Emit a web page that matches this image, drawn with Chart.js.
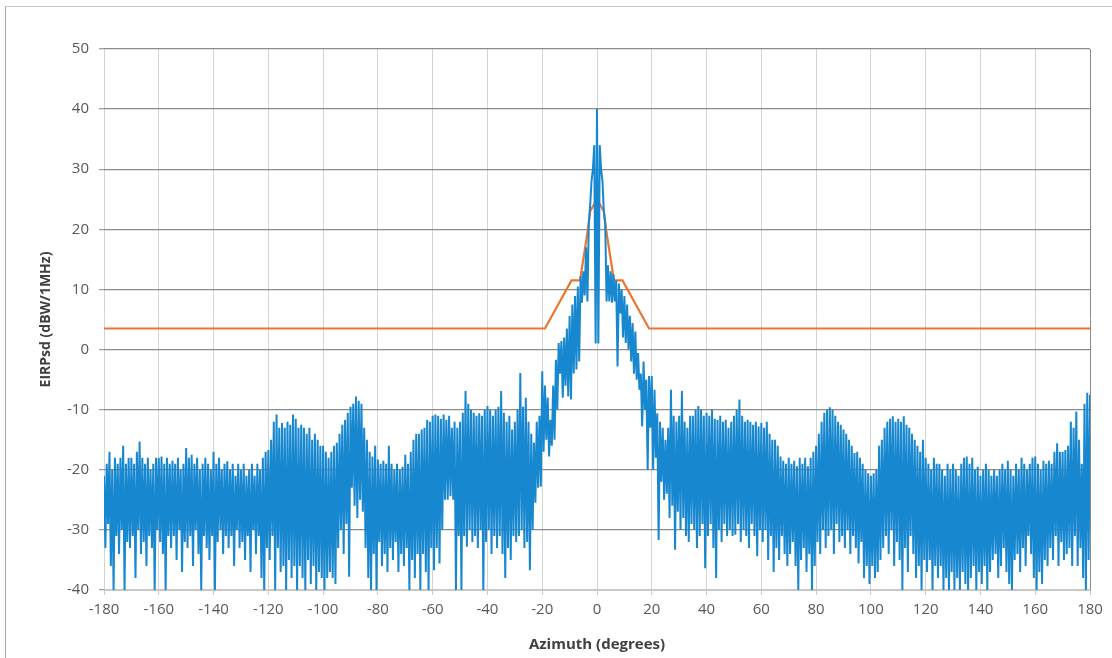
<!DOCTYPE html>
<html>
<head>
<meta charset="utf-8">
<title>EIRPsd vs Azimuth</title>
<script src="https://cdn.jsdelivr.net/npm/chart.js@4.4.1/dist/chart.umd.min.js"></script>
<style>
  html, body { margin: 0; padding: 0; background: #fff; overflow: hidden; }
  #wrap { position: relative; width: 1112px; height: 658px; }
  #frame { position: absolute; left: 5px; top: 6px; width: 1200px; height: 800px;
           border-top: 1px solid #c8c8c8; border-left: 1px solid #a8a8a8; pointer-events: none; }
  canvas { position: absolute; left: 0; top: 0; }
</style>
</head>
<body>
<div id="wrap">
  <div id="frame"></div>
  <canvas id="mycanvas" width="1112" height="658"></canvas>
</div>
<script>
// measured EIRPsd, one value every 0.5 deg from -180 to +180
var eirpMeasured = [
  -21,-33,-19,-29,-17,-36,-20,-40,-18,-31,      // -180
  -19,-34,-18,-30,-16,-40,-19,-32,-18,-33,      // -175
  -18,-31,-19,-38,-17,-30,-15.3,-34,-18,-32,    // -170
  -19,-36,-18,-31,-20,-33,-19,-40,-18,-30,      // -165
  -18,-32,-17.8,-34,-19,-40,-18,-31,-19,-33,    // -160
  -18.5,-31,-19,-35,-18,-30,-20,-37,-19,-32,    // -155
  -16.4,-33,-18,-31,-17.5,-36,-19,-30,-18,-34,  // -150
  -20,-40,-19,-31,-18,-33,-19,-35,-20,-31,      // -145
  -17,-40,-19,-32,-18,-30,-20,-34,-19,-31,      // -140
  -18.6,-33,-20,-31,-19,-36,-21,-30,-19,-33,    // -135
  -20,-32,-19,-35,-21,-31,-20,-37,-19,-30,      // -130
  -21,-34,-19,-31,-20,-38,-18,-40,-17,-33,      // -125
  -16.7,-35,-15,-31,-12,-40,-10.8,-33,-13,-37,  // -120
  -12.2,-36,-13,-40,-12,-35,-12.5,-38,-10.8,-36,// -115
  -11.5,-40,-13,-36,-12.5,-38,-13,-40,-14,-35,  // -110
  -13,-39,-15,-36,-14,-40,-15,-37,-16,-38,      // -105
  -16,-40,-17,-38,-18,-37,-17,-38,-16,-39,      // -100
  -15.5,-33,-14,-30,-12.5,-34,-11.7,-29,-10.5,-37.8, // -95
  -9.5,-23,-9,-26,-7.8,-28,-8.5,-25,-9,-27,     // -90
  -13,-33,-15,-38,-17,-40,-17.8,-34,-16,-40,    // -85
  -18.3,-32,-19,-36,-18.5,-34,-19,-37,-16,-33,  // -80
  -19,-35,-20,-32,-19,-37,-20,-34,-19.5,-36,    // -75
  -17.5,-33,-19,-40,-17,-35,-15,-38,-14,-34,    // -70
  -14,-40,-13.3,-34,-13,-37,-11.7,-40,-12,-33,  // -65
  -11,-36.7,-10.8,-33,-11,-35.6,-11.5,-30,-10.8,-25, // -60
  -11.7,-25,-11,-24.4,-13,-25,-12,-40,-13,-31,  // -55
  -12,-40,-10.5,-31,-6.9,-32.8,-9,-30,-10,-32,  // -50
  -10.5,-31,-11,-33,-10.6,-30,-11,-40,-10,-32,  // -45
  -9.4,-30,-10,-34,-11,-31,-10,-33,-9.5,-31,    // -40
  -6.9,-34,-10.5,-38,-12,-33,-11,-35,-13.3,-31, // -35
  -12,-32,-10,-31,-3.9,-30,-9.5,-33,-8,-32,     // -30
  -12,-36.7,-14,-30,-15.5,-25.5,-12,-23,-11,-22.8, // -25
  -3.6,-17,-6,-15,-8,-17.8,-11.7,-16,-6,-15,    // -20
  -1.7,-10,1.1,-4,1.4,-8,2,-6,3.5,-7.8,         // -15
  5.6,-8.3,7.5,-4,8.9,-3.3,10.5,-2,12.2,7.8,    // -10
  13,9,17,8,21,24,28,30,34,1,                   // -5
  40,1,34,30,28,23,21,8,14,8,                   // 0
  13,7.8,12.5,8,11.5,-2.8,11,6,10,2,            // 5
  8.9,1.1,7.5,0,5.6,-2,4.4,-4,3,-5,             // 10
  -0.6,-6.7,-4,-12.8,-2,-10,-5,-20,-4.4,-13,    // 15
  -4.4,-20,-6.7,-18,-10.6,-31.7,-12,-22,-13,-25,// 20
  -15,-24,-13,-28,-6.7,-26,-11,-33.3,-12,-27,   // 25
  -11,-30,-6.9,-28,-12,-31,-13,-32,-11,-29,     // 30
  -11,-30,-10,-33,-9.4,-31,-10,-29,-11,-36.4,   // 35
  -10.5,-31,-11,-29,-10,-33,-11.5,-38,-11.7,-30,// 40
  -11,-32,-12,-29,-11.7,-31,-13,-30,-12,-31,    // 45
  -11,-30.8,-10,-29,-8.3,-32,-11,-30,-12,-31,   // 50
  -11.7,-33,-12,-29,-12.5,-31,-12,-34.4,-12.8,-30, // 55
  -12.2,-32,-13,-30,-12,-35,-14,-31,-15,-37,    // 60
  -15,-33,-16,-35,-17.8,-31,-18.5,-34,-19,-36,  // 65
  -18,-34,-19,-32,-18.5,-36,-19.4,-40,-18,-35,  // 70
  -19,-33,-18,-37,-19.4,-34,-18,-40,-17,-36,    // 75
  -16,-32,-14,-34,-12,-30,-10.5,-33,-10,-31,    // 80
  -9.6,-30,-10,-34,-11,-29,-12,-32,-12.5,-31,   // 85
  -13.3,-33,-14,-30,-15,-34,-16,-31,-17.2,-33,  // 90
  -17,-35.6,-18,-32,-19,-38,-20,-36,-20.6,-39,  // 95
  -21,-36,-20.6,-38,-20,-37,-16,-35,-15,-33,    // 100
  -13,-31,-12,-34,-11.5,-30,-11.1,-36,-12,-32,  // 105
  -11.5,-35,-12,-40,-11.1,-33,-12.5,-37,-13,-31,// 110
  -14,-34,-15,-38,-16,-36,-17,-40,-15,-35,      // 115
  -18,-37,-19,-35,-20,-40,-18,-36,-19,-38,      // 120
  -19,-36,-20,-40,-21,-38,-19,-40,-20,-37,      // 125
  -19,-40,-20,-38,-21,-40,-19,-37,-18,-39,      // 130
  -17.8,-40,-19,-38,-18,-36,-20,-40,-19.5,-37,  // 135
  -21,-39,-20,-36,-19,-40,-20,-37,-21,-35,      // 140
  -20,-34,-21,-38,-20,-36,-19,-33,-20,-37,      // 145
  -18.5,-39,-20,-40,-21,-35,-19,-34,-20,-37,    // 150
  -18,-33,-19,-36,-20,-31,-19,-34,-18,-38,      // 155
  -17.8,-40,-19,-37,-20,-39,-18.5,-35,-19,-36,  // 160
  -18.5,-33,-19,-35,-17,-31,-15.6,-36,-17,-32,  // 165
  -17,-35,-16.7,-34,-16,-33,-12,-36,-13,-31,    // 170
  -10.3,-36,-15,-33,-19,-38,-9,-40,-7.2,-35,    // 175
  -7.5                                          // 180
];

// azimuth sample grid for the measured trace (0.5 deg steps)
var azStart = -180;
var azStep = 0.5;

// mask line (orange)
var maskAz    = [-180, -19, -9.3, -6.2, -3.3, -2.5,  0, 2.5, 3.3,  6.2,  9.3,  19, 180];
var maskLevel = [ 3.5, 3.5, 11.5, 11.5,   20,   23, 25,  23,  20, 11.5, 11.5, 3.5, 3.5];

var xMin = -180, xMax = 180, xStep = 20;
var yMin = -40, yMax = 50, yStep = 10;

var measuredPts = [];
for (var i = 0; i < eirpMeasured.length; i++) {
	measuredPts.push({ x: azStart + i * azStep, y: eirpMeasured[i] });
}
var maskPts = [];
for (var j = 0; j < maskAz.length; j++) {
	maskPts.push({ x: maskAz[j], y: maskLevel[j] });
}

var tickFont = { family: "'Open Sans', 'Liberation Sans', sans-serif", size: 15 };
var titleFont = { family: "'Open Sans', 'Liberation Sans', sans-serif", size: 14, weight: 'bold' };

var ctx = document.getElementById('mycanvas');

var chart = new Chart(ctx, {
	type: 'line',
	data: {
		datasets: [
			{
				label: 'measured',
				data: measuredPts,
				borderColor: '#1787cf',
				borderWidth: 2,
				pointRadius: 0,
				tension: 0,
				order: 0
			},
			{
				label: 'mask',
				data: maskPts,
				borderColor: '#ec7530',
				borderWidth: 2.2,
				pointRadius: 0,
				tension: 0,
				order: 1
			}
		]
	},
	options: {
		responsive: false,
		animation: false,
		events: [],
		layout: { padding: { top: 49, right: 22, bottom: 0, left: 0 } },
		plugins: {
			legend: { display: false },
			tooltip: { enabled: false }
		},
		scales: {
			x: {
				type: 'linear',
				min: xMin,
				max: xMax,
				afterFit: function(scale) { scale.height = 68; },
				ticks: {
					stepSize: xStep,
					color: '#595959',
					font: tickFont,
					padding: 6,
					maxRotation: 0
				},
				grid: {
					color: function(c) { return c.tick && c.tick.value === 180 ? '#8a8a8a' : '#d4d4d4'; },
					lineWidth: 1,
					tickLength: 5,
					tickColor: '#c8c8c8'
				},
				border: { color: '#c8c8c8' },
				title: {
					display: true,
					text: 'Azimuth (degrees)',
					color: '#404040',
					font: { family: "'Open Sans', 'Liberation Sans', sans-serif", size: 15, weight: 'bold' },
					padding: { top: 0, bottom: 4 }
				}
			},
			y: {
				min: yMin,
				max: yMax,
				afterFit: function(scale) { scale.width = 104; },
				ticks: {
					stepSize: yStep,
					color: '#595959',
					font: tickFont,
					padding: 10
				},
				grid: {
					color: function(c) { return c.tick && c.tick.value === -40 ? '#c8c8c8' : '#8c8c8c'; },
					lineWidth: 1.3,
					tickLength: 5,
					tickColor: '#a0a0a0'
				},
				border: { display: false },
				title: {
					display: true,
					text: 'EIRPsd (dBW/1MHz)',
					color: '#404040',
					font: titleFont,
					padding: { top: 38, bottom: 0 }
				}
			}
		}
	}
});
</script>
</body>
</html>
